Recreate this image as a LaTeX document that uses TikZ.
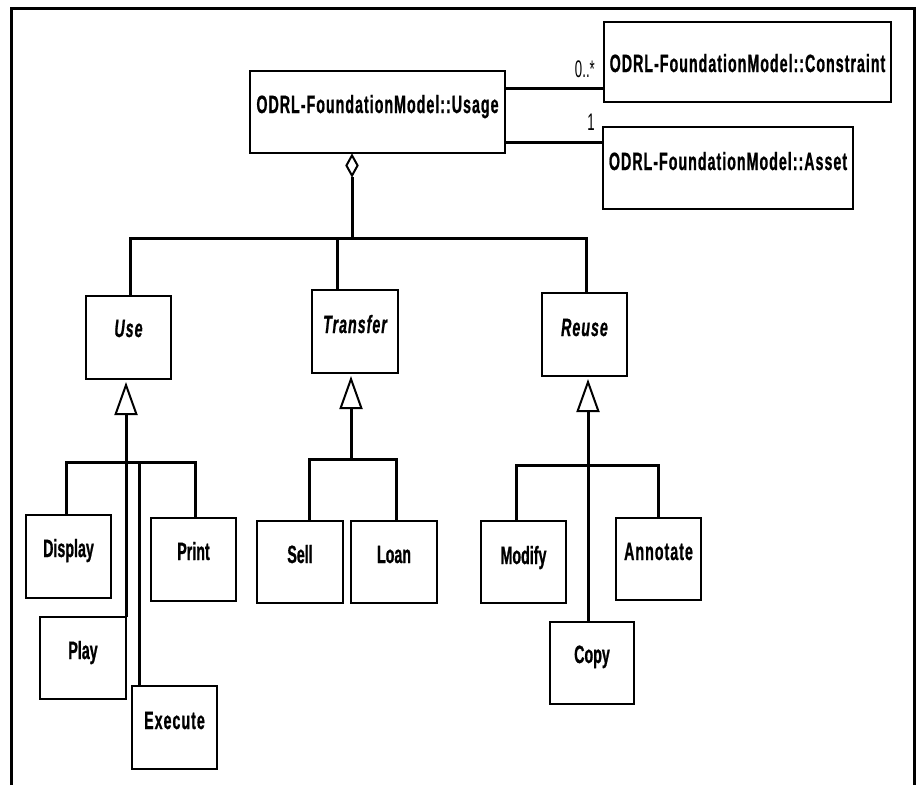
\documentclass[tikz,border=0pt]{standalone}
\usepackage{fontspec}
\setmainfont{Liberation Sans}[FakeStretch=0.57,FakeBold=0.8]
\newfontfamily\spacedfont{Liberation Sans}[FakeStretch=0.57,LetterSpace=4,FakeBold=0.8]
\newfontfamily\multfont{Liberation Sans}[FakeStretch=0.55]
\usetikzlibrary{arrows.meta,shapes.geometric,calc}
\begin{document}
\begin{tikzpicture}[x=1pt,y=-1pt,
  box/.style={draw,line width=2pt,inner sep=0pt,outer sep=0pt,anchor=north west,
    minimum height=83pt,text height=42pt,text depth=41pt,
    font=\fontsize{25}{30}\selectfont\bfseries},
  conn/.style={line width=3pt},
  gen/.style={-{Triangle[open,length=33pt,width=23pt,line width=2pt]},shorten >=3pt},
  mult/.style={inner sep=0pt,font=\multfont\fontsize{24}{28}\selectfont}
]
\fill[white] (0,0) rectangle (921,785);
\useasboundingbox (0,0) rectangle (921,785);
% frame
\draw[line width=3pt] (11,785) -- (11,8) -- (914,8) -- (914,785);

% top classes
\node[box,minimum width=255pt,minimum height=82pt,text height=42pt,text depth=40pt] (usage) at (250,71) {\spacedfont ODRL-FoundationModel::Usage};
\node[box,minimum width=287pt,minimum height=80pt,text height=50pt,text depth=30pt] (constraint) at (604,22) {\spacedfont ODRL-FoundationModel::Constraint};
\node[box,minimum width=250pt,minimum height=82pt,text height=43pt,text depth=39pt] (asset) at (603,127) {\spacedfont ODRL-FoundationModel::Asset};

\draw[conn] ([yshift=-17pt]usage.north east) -- ([yshift=14pt]constraint.south west);
\draw[conn] ([yshift=11pt]usage.south east) -- ([yshift=-15pt]asset.north west);
\node[mult,anchor=base east] (m1) at (595,77) {0..*};
\node[mult,anchor=base east] (m2) at (595,130) {1};

% aggregation
\node[diamond,draw,line width=2pt,fill=white,inner sep=0pt,minimum width=12pt,minimum height=21pt] (dia) at (352,165.5) {};
\coordinate (j0) at (352,238);
\draw[conn] (dia.south) -- (j0);

% second level
\node[box,minimum width=85pt,text height=41pt,text depth=42pt] (use) at (86,296) {\spacedfont\itshape Use};
\node[box,minimum width=86pt,text height=43pt,text depth=40pt] (transfer) at (312,290) {\spacedfont\itshape Transfer};
\node[box,minimum width=85pt,text height=43pt,text depth=40pt] (reuse) at (542,293) {\spacedfont\itshape Reuse};

\draw[conn] ([xshift=1.5pt]use.north) |- (j0);
\draw[conn] ([xshift=-18pt]transfer.north) |- (j0);
\draw[conn] ([xshift=1.5pt]reuse.north) |- (j0);

% Use children
\node[box,minimum width=85pt] (display) at (26,515) {Display};
\node[box,minimum width=85pt] (print) at (151,518) {Print};
\node[box,minimum width=86pt,minimum height=82pt,text depth=40pt] (play) at (40,617) {Play};
\node[box,minimum width=85pt,text height=43pt,text depth=40pt] (execute) at (132,686) {\spacedfont Execute};
\coordinate (ju) at (126,462);
\draw[conn,gen] (ju |- play.north) -- (ju |- use.south);
\draw[conn] ([xshift=-2.5pt]display.north) |- (ju);
\draw[conn] ([xshift=1.5pt]print.north) |- (ju);
\draw[conn] ([xshift=7pt]execute.north west) |- (ju);

% Transfer children
\node[box,minimum width=86pt,minimum height=82pt,text depth=40pt] (sell) at (257,521) {Sell};
\node[box,minimum width=86pt,minimum height=82pt,text depth=40pt] (loan) at (351,521) {Loan};
\coordinate (jt) at (351,459);
\draw[conn,gen] (jt) -- (jt |- transfer.south);
\draw[conn] ([xshift=9pt]sell.north) |- (jt);
\draw[conn] ([xshift=2pt]loan.north) |- (jt);

% Reuse children
\node[box,minimum width=85pt,minimum height=82pt,text height=43pt,text depth=39pt] (modify) at (481,521) {Modify};
\node[box,minimum width=85pt,minimum height=82pt,text depth=40pt] (annotate) at (616,518) {\spacedfont Annotate};
\node[box,minimum width=84pt,minimum height=82pt,text height=41pt,text depth=41pt] (copy) at (550,622) {Copy};
\coordinate (jr) at (588,465);
\draw[conn,gen] (jr |- copy.north) -- (jr |- reuse.south);
\draw[conn] ([xshift=-7.5pt]modify.north) |- (jr);
\draw[conn] (annotate.north) |- (jr);
\end{tikzpicture}
\end{document}
